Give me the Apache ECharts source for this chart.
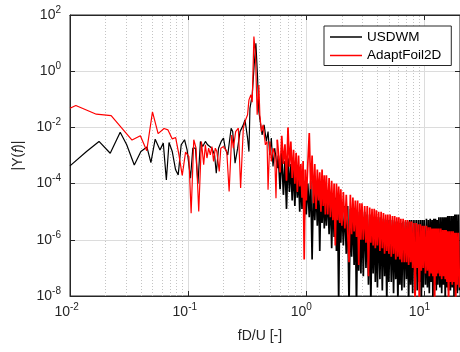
<!DOCTYPE html>
<html>
<head>
<meta charset="utf-8">
<script src="https://cdn.jsdelivr.net/npm/echarts@6/dist/echarts.min.js"></script>
<style>
  html, body { margin: 0; padding: 0; background: #fff; }
  #spectrum { width: 460px; height: 352px; }
</style>
</head>
<body>
<div id="spectrum"></div>
<script>
// fD/U samples and log10|Y(f)|
// low / mid range, each series has its own bins
var usdwmFreq = [0.0100, 0.0138, 0.0176, 0.0219, 0.0266, 0.0302, 0.0350, 0.0398, 0.0448, 0.0484,
  0.0526, 0.0578, 0.0616, 0.0654, 0.0689, 0.0734, 0.0783, 0.0824, 0.0873, 0.0932,
  0.0980, 0.1047, 0.1095, 0.1153, 0.1210, 0.1270, 0.1328, 0.1399, 0.1463, 0.1520,
  0.1589, 0.1674, 0.1730, 0.1808, 0.1905, 0.1992, 0.2058, 0.2164, 0.2311, 0.2383,
  0.2495, 0.2625, 0.2749, 0.2930, 0.3028, 0.3184, 0.3271, 0.3335, 0.3486, 0.3623,
  0.3744, 0.3861, 0.3967, 0.4123, 0.4229, 0.4395, 0.4594, 0.4747, 0.4906, 0.5058,
  0.5230, 0.5403, 0.5681]
var usdwmLog10 = [-3.37, -2.86, -2.50, -2.92, -2.17, -2.62, -3.34, -2.86, -2.70, -3.25,
  -2.42, -2.80, -2.56, -3.87, -2.54, -2.86, -3.51, -3.69, -2.62, -2.44,
  -2.80, -3.81, -2.74, -2.74, -4.00, -2.50, -2.68, -2.50, -2.62, -2.56,
  -2.74, -2.98, -3.63, -2.74, -2.50, -2.38, -2.74, -2.98, -2.03, -2.15,
  -3.27, -2.74, -2.15, -1.91, -1.73, -2.38, -2.86, -1.32, -0.84, 0.22,
  0.99, -0.13, -1.44, -1.50, -2.27, -1.91, -2.50, -2.15, -2.98, -2.38,
  -3.39, -2.74, -3.45]

var adaptFreq = [0.0100, 0.0112, 0.0167, 0.0223, 0.0335, 0.0394, 0.0446, 0.0499, 0.0557, 0.0625,
  0.0675, 0.0734, 0.0784, 0.0836, 0.0891, 0.0951, 0.1014, 0.1060, 0.1116, 0.1167,
  0.1229, 0.1295, 0.1354, 0.1399, 0.1443, 0.1491, 0.1541, 0.1589, 0.1642, 0.1697,
  0.1750, 0.1833, 0.1890, 0.1992, 0.2123, 0.2223, 0.2338, 0.2415, 0.2525, 0.2661,
  0.2781, 0.2930, 0.3028, 0.3184, 0.3271, 0.3400, 0.3486, 0.3602, 0.3715, 0.3839,
  0.3967, 0.4045, 0.4172, 0.4311, 0.4506, 0.4656, 0.4747, 0.4906, 0.5058, 0.5230,
  0.5403, 0.5540, 0.5681]
var adaptLog10 = [-1.32, -1.22, -1.53, -1.58, -2.45, -2.30, -2.83, -1.45, -2.22, -2.04,
  -2.09, -2.41, -2.36, -2.98, -3.71, -2.88, -3.04, -5.05, -2.44, -2.74,
  -4.99, -2.50, -3.33, -2.62, -3.09, -2.74, -2.98, -2.68, -3.21, -2.74,
  -2.86, -3.57, -2.74, -2.68, -2.86, -4.28, -2.27, -2.74, -2.15, -2.03,
  -4.16, -2.03, -1.79, -1.55, -1.02, -0.84, -1.10, 1.23, 0.58, -1.55,
  -0.49, -1.55, -2.15, -1.91, -2.62, -2.50, -4.22, -2.50, -3.21, -2.74,
  -2.98, -4.52, -2.44]

// dense high-frequency part, shared bins
var hfFreq = [0.58, 0.60, 0.62, 0.64, 0.66, 0.68, 0.70, 0.72, 0.74, 0.76, 0.78, 0.80, 0.82, 0.84, 0.86, 0.88, 0.90, 0.92, 0.94, 0.96, 0.98, 1.00,
  1.03, 1.06, 1.09, 1.12, 1.15, 1.18, 1.21, 1.24, 1.27, 1.30, 1.33, 1.36, 1.39, 1.42, 1.45, 1.48,
  1.52, 1.56, 1.60, 1.64, 1.68, 1.72, 1.76, 1.80, 1.84, 1.88, 1.92, 1.96, 2.00,
  2.06, 2.12, 2.18, 2.24, 2.30, 2.36, 2.42, 2.48, 2.54, 2.60, 2.66, 2.72, 2.78, 2.84, 2.90, 2.96,
  3.04, 3.12, 3.20, 3.28, 3.36, 3.44, 3.52, 3.60, 3.68, 3.76, 3.84, 3.92, 4.00,
  4.1, 4.2, 4.3, 4.4, 4.5, 4.6, 4.7, 4.8, 4.9, 5.0,
  5.12, 5.24, 5.36, 5.48, 5.60, 5.72, 5.84, 5.96, 6.08, 6.20, 6.32, 6.44,
  6.6, 6.75, 6.9, 7.05, 7.2, 7.35, 7.5, 7.65, 7.8, 7.95,
  8.15, 8.33, 8.51, 8.69, 8.87, 9.05, 9.23, 9.41, 9.59, 9.77, 9.95,
  10.2, 10.4, 10.6, 10.8, 11.0, 11.2, 11.4, 11.6, 11.8, 12.0, 12.2, 12.4, 12.6, 12.8, 13.0,
  13.25, 13.5, 13.75, 14.0, 14.25, 14.5, 14.75, 15.0, 15.25, 15.5, 15.75, 16.0,
  16.3, 16.6, 16.9, 17.2, 17.5, 17.8, 18.1, 18.4, 18.7, 19.0, 19.4, 19.8]
var usdwmHfLog10 = [-3.0, -4.2, -2.9, -4.4, -3.2, -4.9, -3.1, -4.3, -3.3, -4.6, -3.4, -4.8, -3.5, -4.5, -3.6, -5.0, -3.7, -4.9, -3.8, -5.3, -3.9, -5.1,
  -4.0, -5.2, -3.9, -6.7, -4.0, -5.3, -4.1, -5.5, -4.1, -6.4, -4.2, -5.4, -4.2, -5.6, -4.3, -5.5,
  -4.4, -5.8, -4.4, -6.3, -4.5, -5.9, -4.5, -6.4, -4.6, -8.3, -4.6, -6.1, -4.7,
  -6.2, -4.8, -6.5, -4.8, -8.4, -4.9, -6.6, -4.9, -6.9, -5.0, -8.5, -5.0, -7.1, -5.1, -7.2, -5.1,
  -7.3, -5.0, -7.0, -5.1, -7.6, -5.1, -8.3, -5.1, -7.2, -5.2, -7.5, -5.2, -7.7,
  -5.2, -7.4, -5.2, -7.8, -5.25, -7.3, -5.3, -8.3, -5.3, -7.5,
  -5.3, -7.5, -5.3, -7.9, -5.35, -7.4, -5.35, -8.3, -5.4, -7.6, -5.4, -7.8,
  -5.35, -7.7, -5.35, -7.4, -5.35, -8.3, -5.3, -7.6, -5.3, -7.9,
  -5.3, -7.6, -5.3, -7.8, -5.3, -7.5, -5.3, -8.3, -5.3, -7.7, -5.3,
  -7.6, -5.25, -7.7, -5.3, -7.9, -5.25, -7.5, -5.3, -8.3, -5.25, -7.6, -5.25, -7.8, -5.3, -7.6,
  -5.2, -7.7, -5.2, -7.9, -5.2, -7.6, -5.2, -8.3, -5.2, -7.7, -5.15, -7.8,
  -5.15, -7.8, -5.15, -7.7, -5.15, -8.0, -5.1, -7.8, -5.1, -7.9, -5.1, -7.8]
var adaptHfLog10 = [-2.5, -3.6, -2.3, -3.3, -2.6, -3.9, -2.0, -3.4, -2.5, -3.8, -2.8, -4.0, -2.9, -4.3, -3.0, -4.1, -3.3, -4.5, -3.2, -6.7, -3.5, -4.6,
  -3.3, -2.2, -4.2, -3.0, -4.7, -3.3, -4.9, -3.5, -4.6, -3.6, -5.0, -3.5, -4.8, -3.7, -5.1, -3.7,
  -5.1, -3.8, -5.2, -3.9, -5.3, -4.0, -6.2, -4.0, -5.3, -4.1, -5.4, -4.2, -5.5,
  -4.3, -5.6, -4.4, -5.7, -6.8, -4.4, -5.8, -4.5, -5.7, -4.6, -5.9, -4.6, -6.9, -4.7, -6.0, -4.7,
  -6.0, -4.8, -6.1, -4.8, -7.3, -4.85, -6.1, -4.9, -6.2, -4.9, -6.3, -4.95, -6.2,
  -5.0, -6.4, -5.0, -6.3, -5.05, -6.5, -5.1, -6.4, -5.1, -6.5,
  -5.1, -6.6, -5.15, -6.5, -5.15, -6.7, -5.2, -6.6, -5.2, -6.7, -5.25, -6.8,
  -5.25, -6.8, -5.3, -6.8, -5.3, -6.9, -5.35, -6.8, -5.35, -7.0,
  -5.4, -8.4, -5.4, -7.0, -5.45, -8.4, -5.45, -7.1, -5.5, -7.0, -5.5,
  -7.2, -5.5, -7.1, -5.55, -7.3, -5.55, -7.2, -5.6, -7.3, -5.6, -8.4, -5.6, -7.3, -5.6, -7.2,
  -5.6, -7.3, -5.6, -7.4, -5.65, -7.3, -5.65, -7.4, -5.65, -7.5, -5.7, -8.4,
  -5.7, -7.5, -5.7, -7.6, -5.7, -7.5, -5.75, -8.4, -5.75, -7.6, -5.75, -7.7]

// dotted minor grid positions
var minorGridX = [0.02, 0.03, 0.04, 0.05, 0.06, 0.07, 0.08, 0.09,
  0.2, 0.3, 0.4, 0.5, 0.6, 0.7, 0.8, 0.9,
  2, 3, 4, 5, 6, 7, 8, 9]

var seriesNames = ['USDWM', 'AdaptFoil2D']

var FONT = 'Liberation Sans, Arial, sans-serif'
var TXT = '#262626'

function toPairs(freq, logs) {
  return freq.map(function (f, i) { return [f, Math.pow(10, logs[i])] })
}

function expOf(v) {
  return Math.round(Math.log(v) / Math.LN10)
}

var usdwmLow = toPairs(usdwmFreq, usdwmLog10)
var adaptLow = toPairs(adaptFreq, adaptLog10)
// dense part continues from the last low-range sample
var usdwmHigh = [usdwmLow[usdwmLow.length - 1]].concat(toPairs(hfFreq, usdwmHfLog10))
var adaptHigh = [adaptLow[adaptLow.length - 1]].concat(toPairs(hfFreq, adaptHfLog10))

var labelRich = {
  b: { fontSize: 14, lineHeight: 14, color: TXT, fontFamily: FONT, verticalAlign: 'bottom' },
  s: { fontSize: 10, lineHeight: 10, padding: [0, 0, 7, 0], color: TXT, fontFamily: FONT, verticalAlign: 'bottom' },
  pn: { fontSize: 10, width: 6.7, lineHeight: 10 },
  pp: { fontSize: 10, width: 10, lineHeight: 10 }
}

function lineSeries(name, data, color, width, z) {
  return {
    name: name,
    type: 'line',
    symbol: 'none',
    z: z,
    lineStyle: { color: color, width: width },
    itemStyle: { color: color },
    data: data
  }
}

var blackLow = lineSeries(seriesNames[0], usdwmLow, '#000000', 1.2, 2)
blackLow.markLine = {
  silent: true,
  z: 1,
  symbol: ['none', 'none'],
  label: { show: false },
  lineStyle: { color: '#c4c4c4', type: [1, 2], width: 1 },
  data: minorGridX.map(function (v) { return { xAxis: v } })
}

var option = {
  animation: false,
  backgroundColor: '#fff',
  grid: {
    left: 70,
    top: 15,
    right: -4,
    bottom: 56,
    show: true,
    borderColor: TXT,
    borderWidth: 1
  },
  legend: {
    data: seriesNames,
    orient: 'vertical',
    left: 324,
    top: 26,
    padding: [4, 10, 3, 6],
    itemWidth: 32,
    itemHeight: 1.5,
    itemGap: 4.5,
    icon: 'rect',
    backgroundColor: '#fff',
    borderColor: TXT,
    borderWidth: 1,
    borderRadius: 0,
    textStyle: { fontSize: 13.5, color: '#000', fontFamily: FONT }
  },
  xAxis: [{
    type: 'log',
    logBase: 10,
    min: 0.01,
    max: 20,
    interval: 1,
    name: 'fD/U [-]',
    nameLocation: 'middle',
    nameGap: 33,
    nameTextStyle: { fontSize: 14, color: TXT, fontFamily: FONT, padding: [0, 10, 0, 0] },
    axisLine: { show: true, lineStyle: { color: TXT, width: 1 } },
    axisTick: { show: true, inside: true, length: 5, lineStyle: { color: TXT } },
    axisLabel: {
      margin: 9,
      showMaxLabel: false,
      formatter: function (v) {
        var e = expOf(v)
        return '{b|10}{s|' + e + '}' + (e < 0 ? '{pn| }' : '{pp| }')
      },
      rich: labelRich
    },
    splitLine: { show: true, lineStyle: { color: '#dcdcdc', width: 1 } },
    minorTick: { show: false },
    minorSplitLine: { show: false }
  }, {
    type: 'log',
    logBase: 10,
    min: 0.01,
    max: 20,
    interval: 1,
    position: 'top',
    axisLine: { show: true, lineStyle: { color: TXT, width: 1 } },
    axisTick: { show: true, inside: true, length: 5, lineStyle: { color: TXT } },
    axisLabel: { show: false },
    splitLine: { show: false }
  }],
  yAxis: [{
    type: 'log',
    logBase: 10,
    min: 1e-8,
    max: 1e2,
    interval: 2,
    name: '|Y({i|f})|',
    nameLocation: 'middle',
    nameGap: 38,
    nameTextStyle: {
      fontSize: 14, color: TXT, fontFamily: FONT,
      rich: { i: { fontSize: 14, fontStyle: 'italic', color: TXT, fontFamily: FONT } }
    },
    axisLine: { show: true, lineStyle: { color: TXT, width: 1 } },
    axisTick: { show: true, inside: true, length: 5, lineStyle: { color: TXT } },
    axisLabel: {
      margin: 9,
      formatter: function (v) {
        return '{b|10}{s|' + expOf(v) + '}'
      },
      rich: labelRich
    },
    splitLine: { show: true, lineStyle: { color: '#dcdcdc', width: 1 } }
  }, {
    type: 'log',
    logBase: 10,
    min: 1e-8,
    max: 1e2,
    interval: 2,
    position: 'right',
    axisLine: { show: true, lineStyle: { color: TXT, width: 1 } },
    axisTick: { show: true, inside: true, length: 5, lineStyle: { color: TXT } },
    axisLabel: { show: false },
    splitLine: { show: false }
  }],
  series: [
    blackLow,
    lineSeries(seriesNames[0], usdwmHigh, '#000000', 1.7, 2),
    lineSeries(seriesNames[1], adaptLow, '#ff0000', 1.2, 3),
    lineSeries(seriesNames[1], adaptHigh, '#ff0000', 1.7, 3)
  ]
}

var chart = echarts.init(document.getElementById('spectrum'))
chart.setOption(option)
</script>
</body>
</html>
